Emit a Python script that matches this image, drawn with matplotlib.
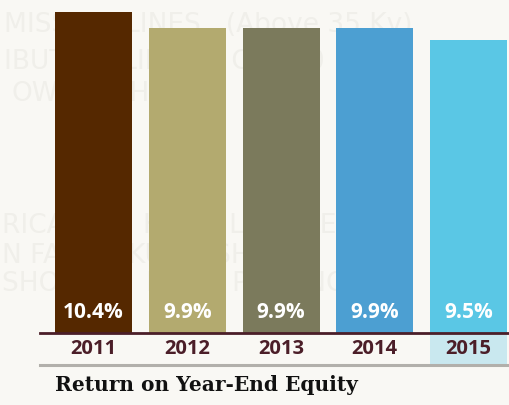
import numpy as np
import matplotlib
matplotlib.use('Agg')
import matplotlib.pyplot as plt
from matplotlib.patches import Rectangle

# data
years = ['2011', '2012', '2013', '2014', '2015']
roe = [10.4, 9.9, 9.9, 9.9, 9.5]
labels = ['10.4%', '9.9%', '9.9%', '9.9%', '9.5%']
colors = ['#552800', '#b3aa6f', '#7b7a5c', '#4c9fd2', '#5ac7e5']
title = 'Return on Year-End Equity'

bg = '#f9f8f4'
maroon = '#4b1e28'

fig = plt.figure(figsize=(5.09, 4.05), dpi=100, facecolor=bg)

# faint background lettering, kept behind the bars
bgax = fig.add_axes([0, 0, 1, 1], zorder=0)
bgax.set_xlim(0, 509)
bgax.set_ylim(405, 0)
bgax.axis('off')
ghost = dict(color='#f0efea', fontsize=19, family=['Liberation Sans Narrow', 'DejaVu Sans'],
             va='center', ha='left')
bgax.text(4, 25, 'MISSION LINES   (Above 35 Kv)', **ghost)
bgax.text(4, 62, 'IBUTION LINES    Co     0', **ghost)
bgax.text(12, 94, 'OWNERSHIP', **ghost)
bgax.text(2, 226, 'RICAN       KU      LE     KE', **ghost)
bgax.text(2, 256, 'N FA        KU      SH      S', **ghost)
bgax.text(2, 284, 'SHONE      KU      PA     NO', **ghost)

ax = fig.add_axes([40 / 509, 72 / 405, 469 / 509, 333 / 405], zorder=1)
ax.patch.set_alpha(0)

x = np.arange(len(years))
ax.bar(x, roe, width=77 / 93.75, color=colors, zorder=2)
ax.set_xlim(-53.5 / 93.75, 4 + 40.5 / 93.75)
ax.set_ylim(0, 333 / 30.85)
ax.axis('off')

for xi, lab in zip(x, labels):
    ax.text(xi, 21 / 30.85, lab, ha='center', va='center', color='white',
            fontsize=15, fontweight='bold', family='Open Sans', zorder=3)

# highlight cell for latest year
ax.add_patch(Rectangle((4 - 38.5 / 93.75, -32 / 30.85), 77 / 93.75, 32 / 30.85,
                       facecolor='#c9e8ef', edgecolor='none', clip_on=False, zorder=1))

for xi, yr in zip(x, years):
    ax.text(xi, -16 / 30.85, yr, ha='center', va='center', color=maroon,
            fontsize=14.5, fontweight='bold', family='Open Sans', zorder=3)

ax.axhline(0, color=maroon, lw=2, zorder=4, clip_on=False)
ax.axhline(-32 / 30.85, color='#b2b0ab', lw=2.2, zorder=4, clip_on=False)

fig.text(55 / 509, 1 - 385 / 405, title, ha='left', va='center', color='#111111',
         fontsize=14.5, fontweight='bold', family='DejaVu Serif')

fig.savefig('out.png', dpi=100, facecolor=bg)
